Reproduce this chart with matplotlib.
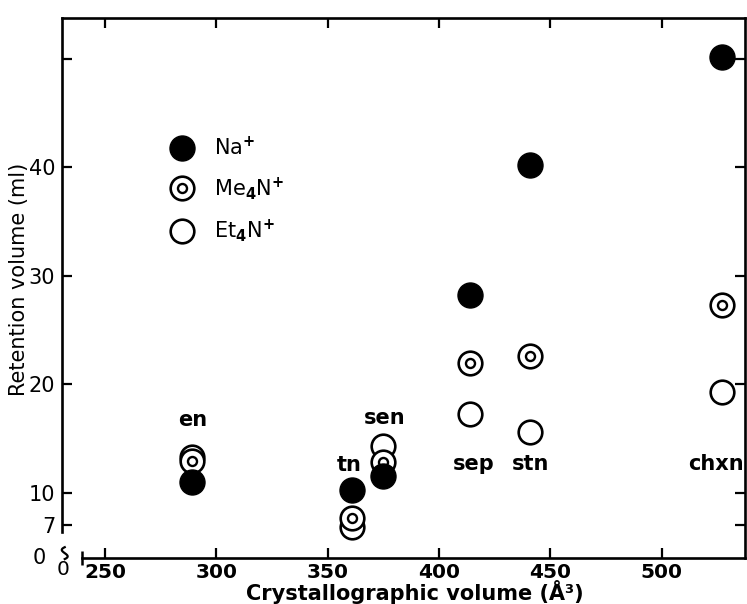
import numpy as np
import matplotlib
matplotlib.use("Agg")
import matplotlib.pyplot as plt
from matplotlib.lines import Line2D

plt.rcParams['font.family'] = 'DejaVu Sans'
plt.rcParams['mathtext.default'] = 'bf'

# ligands and crystallographic volume (A^3)
ligands = ['en', 'tn', 'sen', 'sep', 'stn', 'chxn']
volume = [289, 361, 375, 414, 441, 527]

# retention volume (ml)
na = [11.0, 10.3, 11.6, 28.2, 40.2, 50.2]
me4n = [12.9, 7.7, 12.8, 22.0, 22.6, 27.3]
et4n = [13.3, 6.9, 14.3, 17.3, 15.6, 19.3]

# where each ligand name goes
label_x = [289.5, 359.5, 375.5, 415.5, 441.0, 524.5]
label_y = [16.7, 12.6, 16.9, 12.7, 12.7, 12.7]

xticks = [250, 300, 350, 400, 450, 500]
yticks = [7, 10, 20, 30, 40, 50]
ytick_labels = ['7', '10', '20', '30', '40', '']

fig = plt.figure(figsize=(7.47, 6.04), dpi=100)
ax = fig.add_axes([62/747, 46/604, 683/747, 540.5/604])

ax.plot(volume, et4n, 'o', ms=17, mfc='white', mec='black', mew=1.9, ls='none', zorder=3)
ax.plot(volume, me4n, 'o', ms=17, mfc='white', mec='black', mew=1.9, ls='none', zorder=4)
ax.plot(volume, me4n, 'o', ms=6.5, mfc='white', mec='black', mew=1.7, ls='none', zorder=4)
ax.plot(volume, na, 'o', ms=18, mfc='black', mec='black', ls='none', zorder=5)

for name, lx, ly in zip(ligands, label_x, label_y):
    ax.text(lx, ly, name, fontsize=15, fontweight='bold', ha='center', va='center', zorder=6)

ax.set_xlim(230.7, 537.4)
ax.set_ylim(4.0, 53.8)

ax.set_xticks(xticks)
ax.set_xticklabels([str(t) for t in xticks], fontweight='bold')
ax.set_yticks(yticks)
ax.set_yticklabels(ytick_labels)
ax.set_xticks([239.7], minor=True)

ax.tick_params(axis='both', which='major', direction='in', length=7, width=1.6,
               labelsize=15, pad=5, top=True, right=True)
ax.tick_params(axis='x', which='major', labelsize=14.5, pad=3.5)
ax.tick_params(axis='x', which='minor', direction='inout', length=10, width=1.8, top=False)

for s in ax.spines.values():
    s.set_linewidth(1.9)
ax.spines['left'].set_bounds(6.4, 53.8)
ax.spines['bottom'].set_bounds(239.7, 537.4)

ax.set_xlabel('Crystallographic volume (Å³)', fontsize=15, fontweight='bold', va='center')
ax.xaxis.set_label_coords(0.517, -0.063)
ax.set_ylabel('Retention volume (ml)', fontsize=15)
ax.yaxis.set_label_coords(-0.048, 0.515)

# broken-axis origin
ax.text(-0.033, 0.0, '0', transform=ax.transAxes, fontsize=15, ha='center', va='center')
ax.text(0.002, -0.021, '0', transform=ax.transAxes, fontsize=14.5, ha='center', va='center')
t = np.linspace(0, 1, 30)
ax.plot(0.004 + 0.012*np.sin(np.pi*t)*(1 - 2*t), -0.002 + 0.022*t, color='black', lw=1.6,
        transform=ax.transAxes, clip_on=False)

handles = [
    Line2D([], [], marker='o', ms=18, mfc='black', mec='black', ls='none'),
    (Line2D([], [], marker='o', ms=17, mfc='white', mec='black', mew=1.9, ls='none'),
     Line2D([], [], marker='o', ms=6.5, mfc='white', mec='black', mew=1.7, ls='none')),
    Line2D([], [], marker='o', ms=17, mfc='white', mec='black', mew=1.9, ls='none'),
]
labels = [r'Na$^{+}$', r'Me$_{4}$N$^{+}$', r'Et$_{4}$N$^{+}$']
ax.legend(handles, labels, loc='upper left', bbox_to_anchor=(0.142, 0.80), frameon=False,
          fontsize=15, labelspacing=0.75, handletextpad=0.95, borderpad=0, handlelength=1.2)

fig.savefig('out.png', dpi=100)
